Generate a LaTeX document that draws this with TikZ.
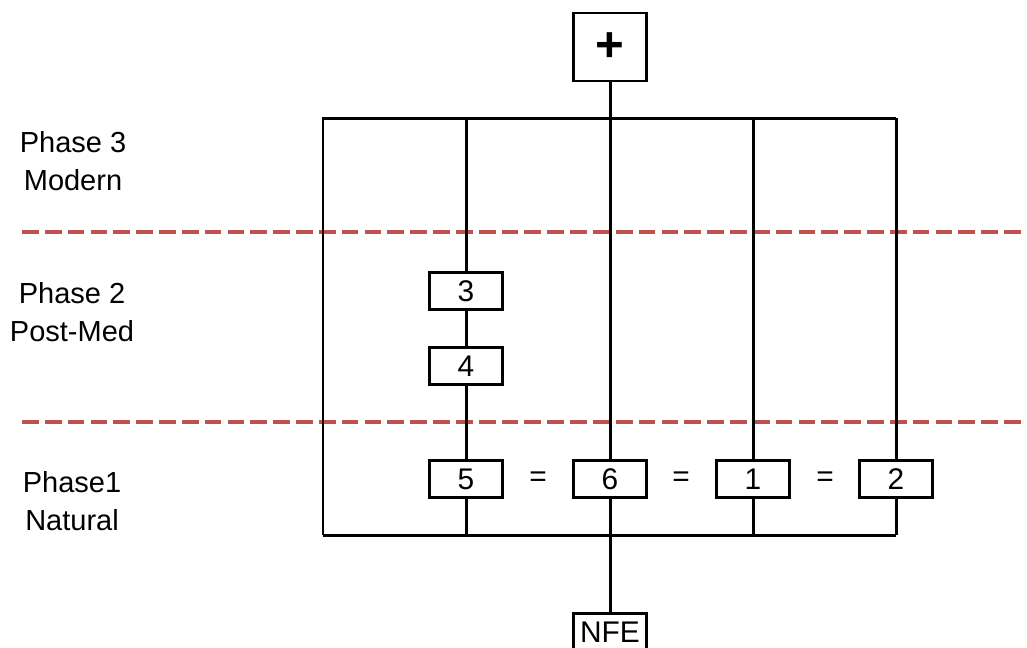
\documentclass[tikz,border=0pt]{standalone}
\usepackage{fontspec}
\setmainfont{Liberation Sans}
\usepackage{tikz}
\usetikzlibrary{positioning, calc}
\definecolor{phasered}{HTML}{C0504D}
\tikzset{
  unitbox/.style={draw=black, line width=1.4pt, fill=white, minimum width=1.46cm,
                  minimum height=0.74cm, inner sep=0pt, font=\fontsize{17}{19}\selectfont},
  plusbox/.style={draw=black, line width=1.4pt, fill=white, minimum width=1.46cm,
                  minimum height=1.36cm, inner sep=0pt, font=\fontsize{28}{30}\selectfont\bfseries},
  wire/.style={line width=1.7pt, black},
  phaseline/.style={line width=2pt, phasered, dash pattern=on 9.5pt off 3.5pt},
  phaselabel/.style={align=center, font=\fontsize{16.5}{21.6}\selectfont},
  eqsign/.style={font=\fontsize{17}{19}\selectfont},
}
\begin{document}
\begin{tikzpicture}[x=0.02cm, y=-0.02cm]
  \useasboundingbox (0,0) rectangle (1027,647);

  % phase boundaries
  \draw[phaseline] (22,232) -- (1027,232);
  \draw[phaseline] (22,422) -- (1027,422);

  % phase labels
  \node[phaselabel] (ph3) at (73,161) {Phase 3\\Modern};
  \node[phaselabel] (ph2) at (72,312) {Phase 2\\Post-Med};
  \node[phaselabel] (ph1) at (72,501) {Phase1\\Natural};

  % frame corners
  \coordinate (tl) at (323,118);
  \coordinate (tr) at (896,118);
  \coordinate (bl) at (323,535);
  \coordinate (br) at (896,535);

  % units
  \node[plusbox] (plus) at (610,47) {+};
  \node[unitbox] (u3) at (466,291) {3};
  \node[unitbox] (u4) at (466,366) {4};
  \node[unitbox] (u5) at (466,479) {5};
  \node[unitbox] (u6) at (610,479) {6};
  \node[unitbox] (u1) at (753,479) {1};
  \node[unitbox] (u2) at (896,479) {2};
  \node[unitbox] (nfe) at (610,632) {NFE};

  \node[eqsign] (eq1) at (538,479) {=};
  \node[eqsign] (eq2) at (681,479) {=};
  \node[eqsign] (eq3) at (825,479) {=};

  % frame
  \draw[wire] (bl) -- (tl) -- (tr);
  \draw[wire] (bl) -- (br);

  % columns
  \draw[wire] (u3 |- tl) -- (u3);
  \draw[wire] (u3) -- (u4);
  \draw[wire] (u4) -- (u5);
  \draw[wire] (u5) -- (u5 |- bl);
  \draw[wire] (plus) -- (u6);
  \draw[wire] (u6) -- (nfe);
  \draw[wire] (u1 |- tl) -- (u1);
  \draw[wire] (u1) -- (u1 |- bl);
  \draw[wire] (tr) -- (u2);
  \draw[wire] (u2) -- (br);
\end{tikzpicture}
\end{document}
